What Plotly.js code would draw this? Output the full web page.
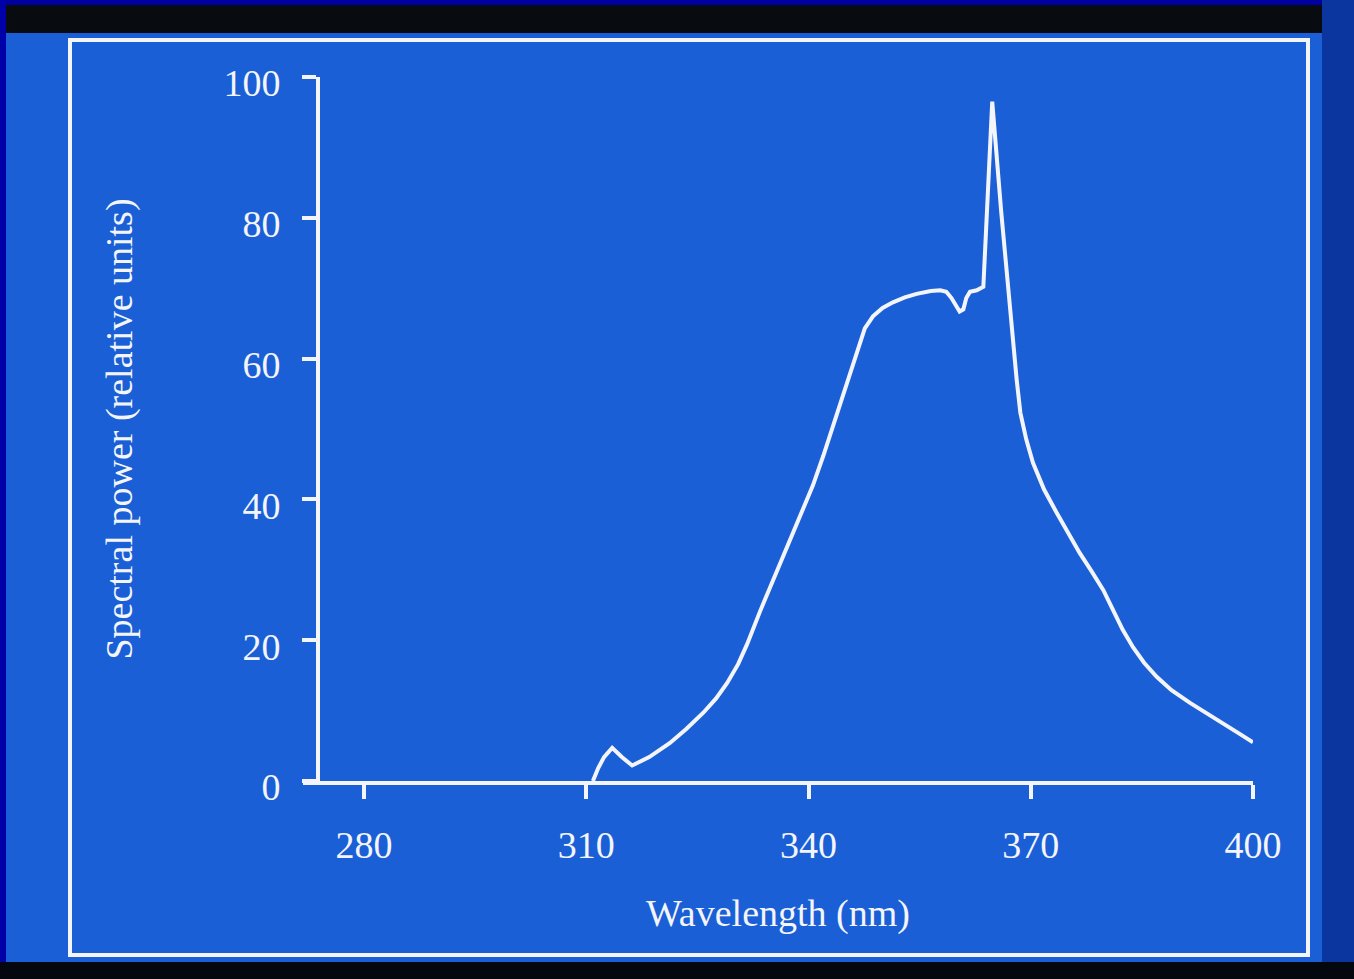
<!DOCTYPE html>
<html>
<head>
<meta charset="utf-8">
<script src="https://cdn.plot.ly/plotly-3.0.1.min.js"></script>
<style>
  html, body { margin: 0; padding: 0; background: #1a5fd6; }
  #chart { width: 1354px; height: 979px; }
</style>
</head>
<body>
<div id="chart"></div>
<script>
// ---- data ----
const wavelength = [310.9, 311.6, 312.4, 313.5, 314.8, 316.2, 318.5, 321.3, 323.5, 325.8,
  327.5, 329.0, 330.5, 331.7, 333.5, 335.8, 338.5, 340.6, 342.0, 344.3,
  346.0, 347.0, 347.6, 348.7, 350.0, 351.4, 353.0, 354.6, 356.5, 357.8,
  358.6, 359.3, 359.9, 360.4, 360.9, 361.3, 361.8, 362.7, 363.6, 364.8,
  366.0, 367.2, 368.1, 368.6, 369.4, 370.3, 371.8, 373.5, 375.0, 376.6,
  378.2, 379.8, 381.1, 382.4, 383.8, 385.3, 387.0, 389.0, 391.5, 393.7,
  396.0, 398.2, 400.0];
const spectralPower = [0.0, 1.8, 3.4, 4.7, 3.4, 2.2, 3.4, 5.4, 7.4, 9.7,
  11.7, 13.9, 16.6, 19.4, 24.2, 30.0, 36.6, 42.0, 46.2, 53.5,
  59.0, 62.5, 64.3, 66.0, 67.2, 68.0, 68.7, 69.2, 69.6, 69.7,
  69.5, 68.6, 67.4, 66.7, 67.0, 68.6, 69.5, 69.7, 70.2, 96.5,
  81.0, 66.5, 57.0, 52.3, 48.5, 45.2, 41.4, 38.1, 35.2, 32.4,
  29.8, 27.1, 24.3, 21.5, 19.0, 16.8, 14.8, 12.9, 11.1, 9.6,
  8.2, 6.7, 5.5];
const xTicks = [280, 310, 340, 370, 400];
const yTicks = [0, 20, 40, 60, 80, 100];
const xTitle = 'Wavelength (nm)';
const yTitle = 'Spectral power (relative units)';

// ---- layout geometry ----
const W = 1354, H = 979;
const L = 303, R = 1253, T = 77, B = 781;
const PW = R - L, PH = B - T;
const px = v => (v - L) / PW;          // pixel x -> paper x
const py = v => (B - v) / PH;          // pixel y -> paper y
const WHITE = '#f3f5fa';
const FONT = 'Liberation Serif, Times New Roman, serif';

function rect(x0, y0, x1, y1, fill, line) {
  return {
    type: 'rect', xref: 'paper', yref: 'paper', layer: 'below',
    x0: px(x0), x1: px(x1), y0: py(y0), y1: py(y1),
    fillcolor: fill || 'rgba(0,0,0,0)',
    line: line || { width: 0 }
  };
}

const shapes = [
  rect(0, 0, W, 5, '#0000a0'),
  rect(0, 5, W, 33, '#080b10'),
  rect(0, 0, 6, H, '#0000a8'),
  rect(1322, 0, W, H, '#0b36a0'),
  rect(0, 962, W, H, '#05070f'),
  rect(70, 40, 1308, 955, null, { color: WHITE, width: 4 })
];

const trace = {
  type: 'scatter', mode: 'lines',
  x: wavelength, y: spectralPower,
  line: { color: WHITE, width: 4, shape: 'linear' },
  hoverinfo: 'x+y'
};

const layout = {
  width: W, height: H,
  margin: { l: L, r: W - R, t: T, b: H - B, pad: 0 },
  paper_bgcolor: '#1a5fd6',
  plot_bgcolor: 'rgba(0,0,0,0)',
  showlegend: false,
  font: { family: FONT, color: WHITE, size: 38 },
  shapes: shapes,
  xaxis: {
    range: [280 - (364 - L) / 7.408, 400],
    tickmode: 'array', tickvals: xTicks, ticktext: xTicks.map(String),
    showline: true, linecolor: WHITE, linewidth: 4,
    ticks: 'outside', ticklen: 14, tickwidth: 4, tickcolor: WHITE,
    ticklabelstandoff: 13,
    showgrid: false, zeroline: false,
    tickfont: { family: FONT, size: 38, color: WHITE },
    title: { text: xTitle, standoff: 36, font: { family: FONT, size: 38, color: WHITE } }
  },
  yaxis: {
    range: [0, 100],
    anchor: 'free', position: px(318),
    tickmode: 'array', tickvals: yTicks, ticktext: yTicks.map(String),
    showline: true, linecolor: WHITE, linewidth: 4,
    ticks: 'outside', ticklen: 14, tickwidth: 4, tickcolor: WHITE,
    ticklabelstandoff: 14,
    ticklabelshift: 6,
    showgrid: false, zeroline: false,
    tickfont: { family: FONT, size: 38, color: WHITE },
    title: { text: yTitle, standoff: 78, font: { family: FONT, size: 38, color: WHITE } }
  }
};

Plotly.newPlot('chart', [trace], layout, { displayModeBar: false, staticPlot: false });
</script>
</body>
</html>
